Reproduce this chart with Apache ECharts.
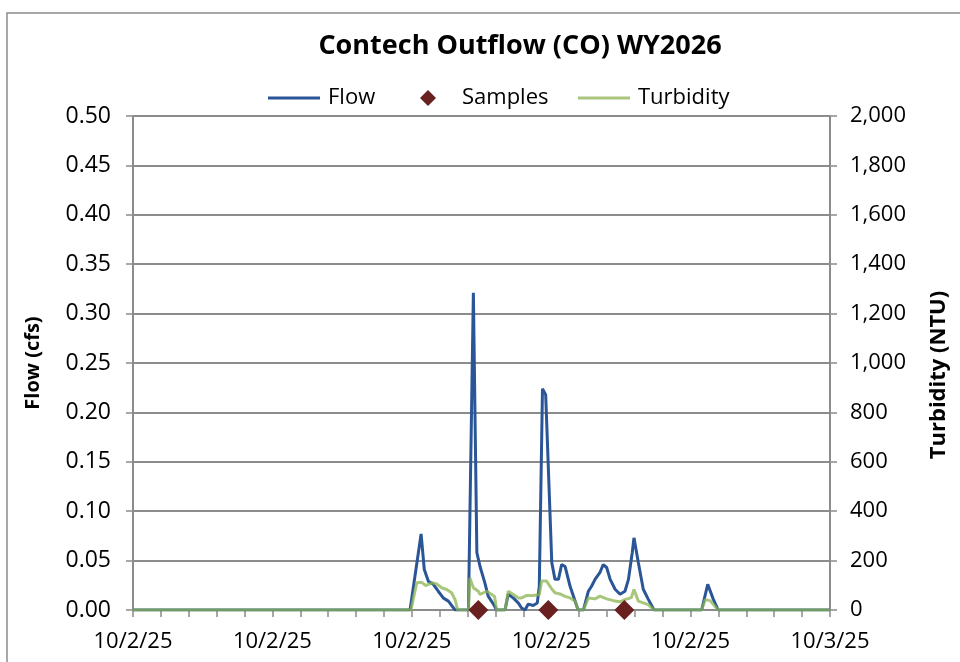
<!DOCTYPE html>
<html>
<head>
<meta charset="utf-8">
<script src="https://cdn.jsdelivr.net/npm/echarts@6/dist/echarts.min.js"></script>
<style>
  html, body { margin: 0; padding: 0; background: #fff; }
  #chart { width: 960px; height: 662px; }
</style>
</head>
<body>
<div id="chart"></div>
<script>
// time of day in hours (10/2/25 00:00 = 0)
var flowTimes = [0, 9.54, 9.92, 10.03, 10.17, 10.34, 10.51, 10.69, 10.86, 11.09, 11.55, 11.72, 11.84, 11.95, 12.12, 12.23, 12.41, 12.52,
  12.81, 12.92, 13.10, 13.27, 13.38, 13.50, 13.61, 13.78, 13.92, 13.99, 14.10, 14.13, 14.21, 14.42, 14.53, 14.65, 14.76, 14.88,
  15.05, 15.28, 15.33, 15.51, 15.68, 15.79, 15.91, 16.08, 16.19, 16.31, 16.43, 16.60, 16.77, 16.94, 17.06, 17.19, 17.25, 17.40,
  17.57, 17.74, 17.94, 19.58, 19.79, 19.98, 20.15, 24]
var flowValues = [0, 0, 0.077, 0.041, 0.029, 0.026, 0.019, 0.012, 0.009, 0, 0, 0.321, 0.058, 0.044, 0.027, 0.014, 0.006, 0,
  0, 0.016, 0.012, 0.007, 0.002, 0, 0.006, 0.0045, 0.007, 0.024, 0.224, 0.224, 0.218, 0.048, 0.031, 0.031, 0.046, 0.044,
  0.024, 0.004, 0, 0, 0.019, 0.024, 0.031, 0.038, 0.046, 0.043, 0.031, 0.021, 0.016, 0.019, 0.031, 0.058, 0.073, 0.048,
  0.021, 0.011, 0, 0, 0.026, 0.011, 0, 0]

var turbTimes = [0, 9.57, 9.77, 9.94, 10.08, 10.29, 10.46, 10.63, 10.80, 10.97, 11.09, 11.18, 11.55, 11.60, 11.72, 11.89, 11.95,
  12.18, 12.35, 12.45, 12.52, 12.81, 12.92, 13.10, 13.27, 13.38, 13.56, 13.78, 13.99, 14.07, 14.24, 14.42, 14.53, 14.70, 14.88,
  15.05, 15.22, 15.33, 15.51, 15.68, 15.91, 16.08, 16.31, 16.60, 16.77, 16.94, 17.16, 17.25, 17.40, 17.57, 17.74, 17.94,
  19.58, 19.70, 19.87, 20.15, 24]
var turbValues = [0, 0, 110, 112, 99, 110, 105, 90, 83, 70, 42, 0, 0, 130, 90, 76, 63,
  76, 63, 55, 0, 0, 76, 63, 49, 49, 59, 59, 63, 117, 117, 85, 70, 65, 55,
  49, 36, 0, 0, 49, 45, 56, 45, 36, 33, 42, 50, 83, 36, 29, 22, 0,
  0, 42, 38, 0, 0]

var sampleTimes = [11.89, 14.30, 16.92]
var sampleValues = [0, 0, 0]

var flowTicks = [0, 0.05, 0.1, 0.15, 0.2, 0.25, 0.3, 0.35, 0.4, 0.45, 0.5]
var turbTicks = [0, 200, 400, 600, 800, 1000, 1200, 1400, 1600, 1800, 2000]

function pairs(xs, ys) {
  return xs.map(function (x, i) { return [x, ys[i]] })
}

var font = "'Open Sans', sans-serif"
var gray = '#8c8c8c'
var blue = '#2a5597'
var green = '#a9c57f'

function legendAt(left, name, extra) {
  return Object.assign({
    top: 82,
    left: left,
    itemWidth: 52,
    itemHeight: 3,
    icon: 'rect',
    textStyle: { fontFamily: font, fontSize: 22, color: '#000', padding: [0, 0, 0, 3] },
    data: [name]
  }, extra || {})
}

var chart = echarts.init(document.getElementById('chart'))
chart.setOption({
  animation: false,
  textStyle: { fontFamily: font },
  graphic: [{
    type: 'rect',
    shape: { x: 7, y: 13, width: 980, height: 700 },
    style: { fill: 'none', stroke: gray, lineWidth: 1.5 }
  }],
  title: {
    text: 'Contech Outflow (CO) WY2026',
    left: 515,
    top: 28,
    textAlign: 'center',
    textStyle: { fontFamily: font, fontSize: 27, fontWeight: 'bold', color: '#000' }
  },
  legend: [
    legendAt(263, 'Flow'),
    legendAt(415, 'Samples', {
      icon: 'diamond',
      itemWidth: 16,
      itemHeight: 16,
      textStyle: { fontFamily: font, fontSize: 22, color: '#000', padding: [0, 0, 0, 21] }
    }),
    legendAt(573, 'Turbidity')
  ],
  grid: { left: 133, right: 130, top: 116, bottom: 52 },
  xAxis: {
    type: 'value',
    min: 0,
    max: 24,
    interval: 4.8,
    axisLine: { show: true, lineStyle: { color: gray, width: 2 } },
    axisTick: { show: true, length: 7, lineStyle: { color: gray, width: 1.5 } },
    minorTick: { show: true, splitNumber: 5, length: 7, lineStyle: { color: gray, width: 1.5 } },
    splitLine: { show: false },
    axisLabel: {
      fontSize: 22,
      color: '#000',
      margin: 21,
      formatter: function (v) { return v >= 24 ? '10/3/25' : '10/2/25' }
    }
  },
  yAxis: [{
    type: 'value',
    min: flowTicks[0],
    max: flowTicks[flowTicks.length - 1],
    interval: 0.05,
    name: 'Flow (cfs)',
    nameLocation: 'middle',
    nameGap: 90,
    nameTextStyle: { fontFamily: font, fontSize: 20, fontWeight: 'bold', color: '#000' },
    axisLine: { show: true, lineStyle: { color: gray, width: 2 } },
    axisTick: { show: true, length: 7, lineStyle: { color: gray, width: 1.5 } },
    splitLine: { show: true, lineStyle: { color: gray, width: 2 } },
    axisLabel: { fontSize: 23, color: '#000', margin: 22, formatter: function (v) { return v.toFixed(2) } }
  }, {
    type: 'value',
    min: turbTicks[0],
    max: turbTicks[turbTicks.length - 1],
    interval: 200,
    name: 'Turbidity (NTU)',
    nameLocation: 'middle',
    nameGap: 98,
    nameRotate: 90,
    nameTextStyle: { fontFamily: font, fontSize: 22, fontWeight: 'bold', color: '#000', padding: [0, 24, 0, 0] },
    axisLine: { show: true, lineStyle: { color: gray, width: 2 } },
    axisTick: { show: true, length: 7, lineStyle: { color: gray, width: 1.5 } },
    splitLine: { show: false },
    axisLabel: { fontSize: 22, color: '#000', margin: 20, formatter: function (v) { return v.toLocaleString('en-US') } }
  }],
  series: [{
    name: 'Flow',
    type: 'line',
    yAxisIndex: 0,
    symbol: 'none',
    lineStyle: { color: blue, width: 3 },
    itemStyle: { color: blue },
    data: pairs(flowTimes, flowValues),
    z: 2
  }, {
    name: 'Turbidity',
    type: 'line',
    yAxisIndex: 1,
    symbol: 'none',
    lineStyle: { color: 'rgba(140,180,80,0.75)', width: 3 },
    itemStyle: { color: green },
    data: pairs(turbTimes, turbValues),
    z: 3
  }, {
    name: 'Samples',
    type: 'scatter',
    yAxisIndex: 0,
    symbol: 'diamond',
    symbolSize: [20, 20],
    itemStyle: { color: '#6b2020', opacity: 1 },
    data: pairs(sampleTimes, sampleValues),
    z: 4
  }]
})
</script>
</body>
</html>
